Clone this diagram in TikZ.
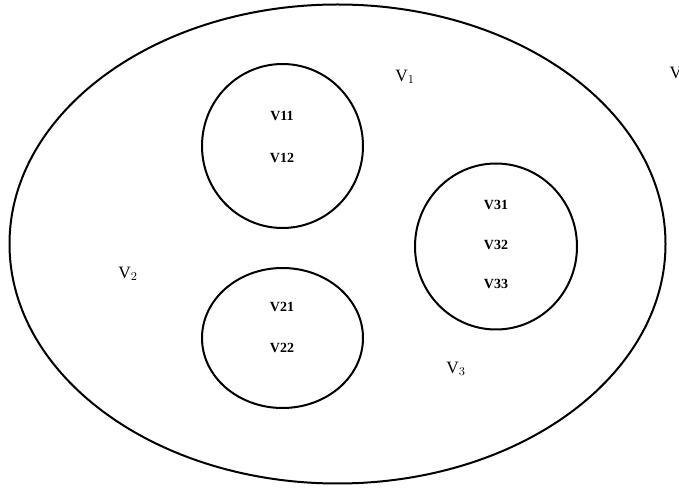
\documentclass[tikz,border=0pt]{standalone}
\usepackage{fontspec}
\setmainfont{Liberation Serif}
\usetikzlibrary{shapes.geometric}
\begin{document}
\begin{tikzpicture}[x=0.75pt,y=-0.75pt,
  setline/.style={draw=black, line width=1.5pt, ellipse, inner sep=0pt},
  inner/.style={font=\fontsize{10.5}{12}\selectfont\bfseries, inner sep=0pt},
  big/.style={font=\fontsize{13}{14}\selectfont, inner sep=0pt}]
\useasboundingbox (0,0) rectangle (679,488);
\fill[white] (0,0) rectangle (679,488);
\node[setline, minimum width=656*0.75pt, minimum height=479*0.75pt] (outer) at (337.5,244) {};
\node[setline, minimum width=161*0.75pt, minimum height=164*0.75pt] (c1) at (282.5,146) {};
\node[setline, minimum width=162*0.75pt, minimum height=166*0.75pt] (c3) at (496,246.5) {};
\node[setline, minimum width=161*0.75pt, minimum height=140*0.75pt] (c2) at (282.5,338) {};
\node[inner] (v11) at (282,116) {V11};
\node[inner] (v12) at (282,158) {V12};
\node[inner] (v31) at (496,205) {V31};
\node[inner] (v32) at (496,245) {V32};
\node[inner] (v33) at (496,284) {V33};
\node[inner] (v21) at (282,307) {V21};
\node[inner] (v22) at (282,348) {V22};
\node[big] (V1) at (405,77) {V$_1$};
\node[big] (V2) at (128,274) {V$_2$};
\node[big] (V3) at (456,369) {V$_3$};
\node[big] (V) at (676,73) {V};
\end{tikzpicture}
\end{document}
